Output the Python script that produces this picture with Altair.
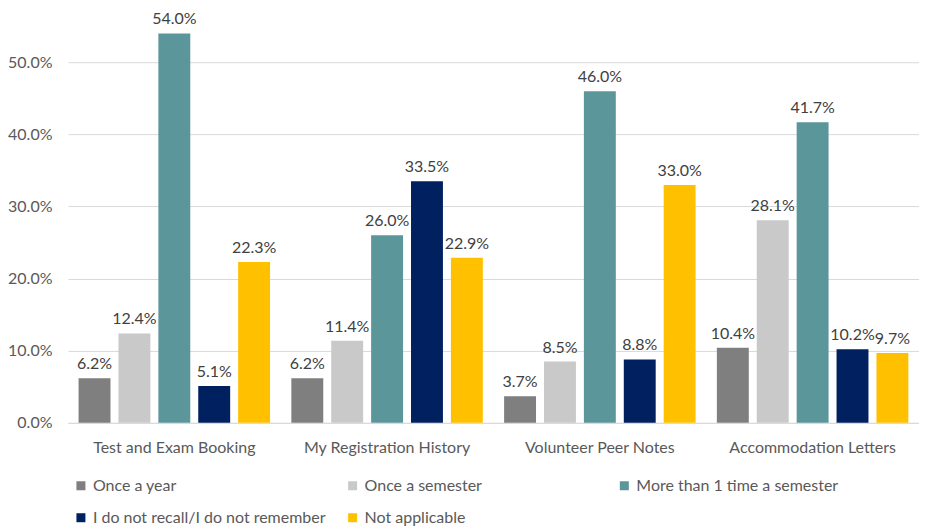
import altair as alt
import pandas as pd

categories = ["Test and Exam Booking", "My Registration History", "Volunteer Peer Notes", "Accommodation Letters"]
series = ["Once a year", "Once a semester", "More than 1 time a semester",
          "I do not recall/I do not remember", "Not applicable"]
colors = ["#7F7F7F", "#C9C9C9", "#5B969B", "#002060", "#FFC000"]

once_a_year = [0.062, 0.062, 0.037, 0.104]
once_a_semester = [0.124, 0.114, 0.085, 0.281]
more_than_once = [0.540, 0.260, 0.460, 0.417]
do_not_recall = [0.051, 0.335, 0.088, 0.102]
not_applicable = [0.223, 0.229, 0.330, 0.097]

values = [once_a_year, once_a_semester, more_than_once, do_not_recall, not_applicable]
rows = []
for s, vals in zip(series, values):
    for c, v in zip(categories, vals):
        rows.append({"category": c, "series": s, "value": v})
df = pd.DataFrame(rows)

FONT = "Lato"
x = alt.X("category:N", sort=categories, title=None,
          scale=alt.Scale(paddingInner=0.1, paddingOuter=0.05),
          axis=alt.Axis(labelAngle=0, labelFontSize=16, labelColor="#595959", labelFont=FONT,
                        ticks=False, domainColor="#D9D9D9", domainWidth=1, labelPadding=17))
xo = alt.XOffset("series:N", sort=series, scale=alt.Scale(paddingInner=0.2, paddingOuter=0.0))
y = alt.Y("value:Q", title=None,
          scale=alt.Scale(domain=[0, 0.55], nice=False),
          axis=alt.Axis(values=[0, 0.1, 0.2, 0.3, 0.4, 0.5], format=".1%", domain=False, ticks=False,
                        labelFontSize=16, labelColor="#595959", labelFont=FONT, labelPadding=16,
                        gridColor="#D9D9D9", gridWidth=1))

base = alt.Chart(df).encode(x=x, xOffset=xo, y=y)

bars = base.mark_bar().encode(
    color=alt.Color("series:N", sort=series, title=None,
                    scale=alt.Scale(domain=series, range=colors),
                    legend=alt.Legend(orient="none", legendX=5, legendY=452, columns=3,
                                      gridAlign="all", columnPadding=18, rowPadding=16,
                                      symbolType="square", symbolSize=81, symbolStrokeWidth=0,
                                      labelFontSize=16, labelColor="#595959", labelFont=FONT,
                                      labelLimit=400, labelOffset=4, direction="horizontal"))
)

labels = base.mark_text(baseline="bottom", dy=-6, fontSize=16, font=FONT, color="#404040").encode(
    text=alt.Text("value:Q", format=".1%")
)

chart = (bars + labels).properties(
    width=852, height=397,
    autosize=alt.AutoSizeParams(type="none"),
    padding={"left": 60, "top": 18, "right": 0, "bottom": 108},
).configure_view(stroke=None)

chart.save("out.html", embed_options={"renderer": "svg", "actions": False})
